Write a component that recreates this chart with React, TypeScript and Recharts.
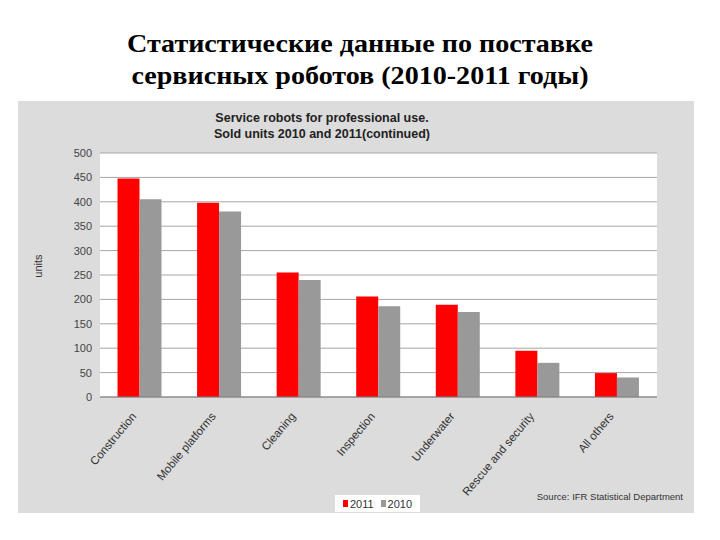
import React from 'react';
import { BarChart, Bar, XAxis, YAxis, CartesianGrid, Label } from 'recharts';

const categories = ['Construction', 'Mobile platforms', 'Cleaning', 'Inspection', 'Underwater', 'Rescue and security', 'All others'];
const sold2011 = [448, 398, 255, 206, 189, 95, 49];
const sold2010 = [405, 380, 240, 186, 174, 70, 40];
const yTicks = [0, 50, 100, 150, 200, 250, 300, 350, 400, 450, 500];
const seriesNames = ['2011', '2010'];
const seriesColors = ['#ff0000', '#999999'];

const data = categories.map((c, i) => ({ name: c, y2011: sold2011[i], y2010: sold2010[i] }));

const SANS = '"Liberation Sans", Arial, sans-serif';

const XTick = (props: any) => {
  const { x, y, payload } = props;
  return (
    <g transform={`translate(${x - 6},${y + 9})`}>
      <text x={0} y={0} dy="0.35em" textAnchor="end" transform="rotate(-50)" fontSize={11.5} fill="#333" fontFamily={SANS}>
        {payload.value}
      </text>
    </g>
  );
};

const YLabel = (props: any) => {
  const { viewBox } = props;
  const cx = viewBox.x + 20;
  const cy = viewBox.y + viewBox.height / 2 - 9;
  return (
    <text x={cx} y={cy} transform={`rotate(-90 ${cx} ${cy})`} textAnchor="middle" dominantBaseline="central" fontSize={11} fill="#333" fontFamily={SANS}>
      units
    </text>
  );
};

export default function App() {
  return (
    <div style={{ position: 'absolute', left: 0, top: 0, width: 720, height: 540, background: '#fff', overflow: 'hidden' }}>
      <div
        style={{
          position: 'absolute', left: 0, top: 28, width: 720, textAlign: 'center',
          fontFamily: '"Liberation Serif", "Times New Roman", serif', fontWeight: 'bold', fontSize: 26, lineHeight: '32px', color: '#000',
          transform: 'scaleX(1.08)', transformOrigin: '360px 0',
        }}
      >
        <div>Статистические данные по поставке</div>
        <div>сервисных роботов (2010-2011 годы)</div>
      </div>
      <div style={{ position: 'absolute', left: 18, top: 101, width: 676, height: 412, background: '#dcdcdc' }}>
        <BarChart
          width={676}
          height={412}
          data={data}
          margin={{ top: 52, right: 37, left: 0, bottom: 36 }}
          barCategoryGap="22%"
          barGap={0}
        >
          <CartesianGrid vertical={false} fill="#ffffff" stroke="#a6a6a6" />
          <XAxis dataKey="name" interval={0} tick={<XTick />} tickLine={false} axisLine={{ stroke: '#808080' }} height={80} />
          <YAxis
            domain={[0, 500]}
            ticks={yTicks}
            width={82}
            axisLine={false}
            tickLine={false}
            tick={{ fontSize: 11, fill: '#444', fontFamily: SANS }}
          >
            <Label content={<YLabel />} />
          </YAxis>
          <Bar dataKey="y2011" name={seriesNames[0]} fill={seriesColors[0]} isAnimationActive={false} />
          <Bar dataKey="y2010" name={seriesNames[1]} fill={seriesColors[1]} isAnimationActive={false} />
        </BarChart>
        <div
          style={{
            position: 'absolute', left: 0, top: 9, width: 608, textAlign: 'center',
            fontFamily: SANS, fontWeight: 'bold', fontSize: 12.5, lineHeight: '16px', color: '#222',
          }}
        >
          <div>Service robots for professional use.</div>
          <div>Sold units 2010 and 2011(continued)</div>
        </div>
        <div
          style={{
            position: 'absolute', left: 317, top: 394, width: 85, height: 17, background: '#fff',
            display: 'flex', alignItems: 'center', justifyContent: 'center', gap: 7,
            fontFamily: SANS, fontSize: 11, color: '#333',
          }}
        >
          {seriesNames.map((n, i) => (
            <span key={n} style={{ display: 'flex', alignItems: 'center' }}>
              <span style={{ display: 'inline-block', width: 5, height: 7, background: seriesColors[i], marginRight: 2 }} />
              {n}
            </span>
          ))}
        </div>
        <div style={{ position: 'absolute', right: 11, top: 390, fontFamily: SANS, fontSize: 9.5, color: '#333' }}>
          Source: IFR Statistical Department
        </div>
      </div>
    </div>
  );
}
